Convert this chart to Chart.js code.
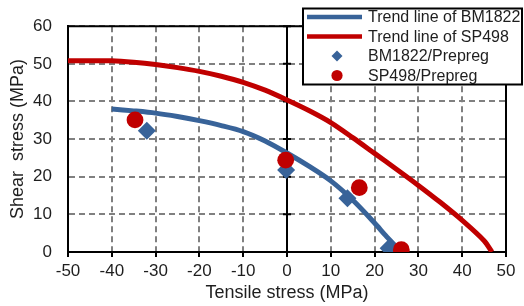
<!DOCTYPE html>
<html><head><meta charset="utf-8">
<script src="https://cdn.jsdelivr.net/npm/chart.js@4.4.0/dist/chart.umd.min.js"></script>
<style>html,body{margin:0;padding:0;background:#fff;}canvas{display:block;}</style>
</head><body>
<canvas id="c" width="524" height="306"></canvas>
<script>
// ---- data ----
const xTicks = [-50, -40, -30, -20, -10, 0, 10, 20, 30, 40, 50];
const yTicks = [0, 10, 20, 30, 40, 50, 60];
const bmTrendX = [-40, -35, -30, -25, -20, -15, -10, -5, 0, 5, 10, 15, 20, 22.5, 25];
const bmTrendY = [38.0, 37.5, 36.9, 36.0, 34.9, 33.6, 32.0, 29.5, 26.3, 22.8, 18.9, 13.8, 7.7, 4.4, 1.3];
const spTrendX = [-50, -45, -40, -35, -30, -25, -20, -15, -10, -5, 0, 5, 10, 15, 20, 25, 30, 35, 40, 45, 46.8];
const spTrendY = [50.8, 50.8, 50.8, 50.4, 49.8, 49.0, 48.0, 46.7, 45.1, 43.0, 40.4, 37.6, 34.4, 30.4, 26.2, 22.0, 17.7, 13.2, 8.4, 3.0, 0];
const bmPtsX = [-32.0, -0.2, 13.8, 23.2];
const bmPtsY = [32.2, 21.8, 14.3, 1.0];
const spPtsX = [-34.7, -0.3, 16.5, 26.1];
const spPtsY = [35.1, 24.4, 17.1, 0.6];
const seriesNames = ['Trend line of BM1822', 'Trend line of SP498', 'BM1822/Prepreg', 'SP498/Prepreg'];
const xTitle = 'Tensile stress (MPa)';
const yTitle = 'Shear  stress (MPa)';

const BLUE = '#386399';
const RED = '#C00000';
const FONT = '"Liberation Sans", Arial, sans-serif';
const GRID = '#808080';

const toPts = (xs, ys) => xs.map((x, i) => ({x: x, y: ys[i]}));

const framePlugin = {
  id: 'frame',
  beforeDatasetsDraw(chart) {
    const {ctx, chartArea: a, scales: {x, y}} = chart;
    const x0 = x.getPixelForValue(0);
    ctx.save();
    ctx.strokeStyle = '#000';
    ctx.lineWidth = 2;
    ctx.beginPath();
    ctx.moveTo(x0, a.top); ctx.lineTo(x0, a.bottom);
    ctx.moveTo(a.left - 1, a.top); ctx.lineTo(a.right, a.top); ctx.lineTo(a.right, a.bottom);
    ctx.stroke();
    ctx.beginPath();
    yTicks.forEach(v => {
      const py = y.getPixelForValue(v);
      ctx.moveTo(x0 - 4, py); ctx.lineTo(x0 + 4, py);
    });
    ctx.stroke();
    ctx.restore();
  },
  afterDraw(chart) {
    const {ctx} = chart;
    const L = 303, T = 8.5, W = 219, H = 76;
    ctx.save();
    ctx.fillStyle = '#fff';
    ctx.fillRect(L, T, W, H);
    ctx.strokeStyle = '#000';
    ctx.lineWidth = 2;
    ctx.strokeRect(L, T, W, H);
    const rows = [17, 36.5, 56, 75.5];
    ctx.lineCap = 'butt';
    ctx.lineWidth = 4.5;
    ctx.strokeStyle = BLUE;
    ctx.beginPath(); ctx.moveTo(307, rows[0]); ctx.lineTo(362, rows[0]); ctx.stroke();
    ctx.strokeStyle = RED;
    ctx.beginPath(); ctx.moveTo(307, rows[1]); ctx.lineTo(362, rows[1]); ctx.stroke();
    ctx.beginPath();
    Chart.helpers.drawPoint(ctx, {pointStyle: 'rectRot', radius: 5.5, borderWidth: 0, rotation: 0}, 337, rows[2]);
    ctx.fillStyle = BLUE; ctx.fill();
    ctx.beginPath(); ctx.arc(337, rows[3], 5.6, 0, Math.PI * 2); ctx.fillStyle = RED; ctx.fill();
    ctx.fillStyle = '#1e1e1e';
    ctx.font = '16px ' + FONT;
    ctx.textBaseline = 'middle';
    ctx.textAlign = 'left';
    seriesNames.forEach((t, i) => ctx.fillText(t, 368, rows[i] + 1));
    ctx.restore();
  }
};

new Chart(document.getElementById('c'), {
  type: 'scatter',
  data: {
    datasets: [
      {label: seriesNames[3], data: toPts(spPtsX, spPtsY), pointStyle: 'circle', pointRadius: 8.4,
       backgroundColor: RED, borderColor: RED, borderWidth: 0, order: 0, showLine: false},
      {label: seriesNames[2], data: toPts(bmPtsX, bmPtsY), pointStyle: 'rectRot', pointRadius: 9,
       backgroundColor: BLUE, borderColor: BLUE, borderWidth: 0, order: 1, showLine: false},
      {label: seriesNames[1], data: toPts(spTrendX, spTrendY), showLine: true, pointRadius: 0,
       borderColor: RED, borderWidth: 5, tension: 0.3, order: 2},
      {label: seriesNames[0], data: toPts(bmTrendX, bmTrendY), showLine: true, pointRadius: 0,
       borderColor: BLUE, borderWidth: 5, tension: 0.3, order: 3}
    ]
  },
  options: {
    responsive: false,
    animation: false,
    devicePixelRatio: 1,
    layout: {padding: {top: 20, right: 18, left: 0, bottom: 0}},
    plugins: {legend: {display: false}, tooltip: {enabled: false}},
    scales: {
      x: {
        type: 'linear', min: -50, max: 50,
        afterBuildTicks: s => { s.ticks = xTicks.map(v => ({value: v})); },
        afterFit: s => { s.height = 54; },
        grid: {
          color: ctx => (ctx.tick && ctx.tick.value === 0) ? 'rgba(0,0,0,0)' : GRID,
          lineWidth: 2, drawTicks: true, tickLength: 5, tickColor: '#000', tickWidth: 2
        },
        border: {display: true, color: '#000', width: 2, dash: [6, 4]},
        ticks: {color: '#1e1e1e', font: {family: FONT, size: 17}, padding: 4, maxRotation: 0, autoSkip: false},
        title: {display: true, text: xTitle, color: '#1e1e1e', font: {family: FONT, size: 18}, padding: {top: 0, bottom: 2}}
      },
      y: {
        type: 'linear', min: 0, max: 60,
        afterBuildTicks: s => { s.ticks = yTicks.map(v => ({value: v})); },
        afterFit: s => { s.width = 68; },
        grid: {color: GRID, lineWidth: 2, drawTicks: false},
        border: {display: true, color: '#000', width: 2, dash: [6, 4]},
        ticks: {color: '#1e1e1e', font: {family: FONT, size: 17}, padding: 16, autoSkip: false},
        title: {display: true, text: yTitle, color: '#1e1e1e', font: {family: FONT, size: 18}, padding: {top: 7, bottom: 0}}
      }
    }
  },
  plugins: [framePlugin]
});
</script>
</body></html>
